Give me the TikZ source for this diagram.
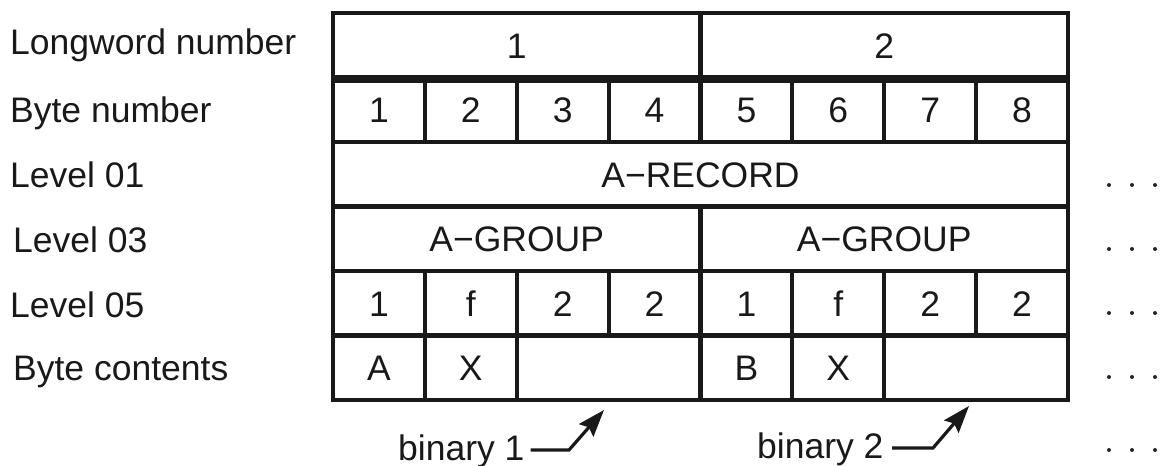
\documentclass[tikz,border=0pt]{standalone}
\usepackage{fontspec}
\setmainfont{Liberation Sans}
\usetikzlibrary{arrows.meta}
\begin{document}
\begin{tikzpicture}[x=1pt,y=-1pt,
  cell/.style={draw=black!90, line width=4.2pt, rectangle, inner sep=0pt,
    minimum height=64.5pt, text height=25.5pt, text depth=0pt,
    font=\fontsize{35.5}{42}\selectfont, text=black!90},
  rowlabel/.style={anchor=base west, inner sep=0pt,
    font=\fontsize{35.5}{42}\selectfont, text=black!90},
  dotmark/.style={fill=black!85},
  pointer/.style={line width=3.2pt, draw=black!90,
    -{Stealth[length=27pt,width=19pt,inset=4pt]}}
]
\useasboundingbox (0,0) rectangle (1160,466);
\def\cw{91.875}
% row labels
\node[rowlabel] (lLong) at (10,54) {Longword number};
\node[rowlabel] (lByte) at (10,122) {Byte number};
\node[rowlabel] (lL01) at (10,187) {Level 01};
\node[rowlabel] (lL03) at (13,252) {Level 03};
\node[rowlabel] (lL05) at (10,317) {Level 05};
\node[rowlabel] (lCont) at (13,380) {Byte contents};
% row 1: longwords
\node[cell, minimum width=4*\cw] (lw1) at (333+2*\cw,45.25) {1};
\node[cell, minimum width=4*\cw] (lw2) at (333+6*\cw,45.25) {2};
% row 2: bytes
\foreach \i in {1,...,8}{
  \node[cell, minimum width=\cw] (b\i) at (333+\i*\cw-0.5*\cw,109.75) {\i};
}
\draw[line width=6.5pt, draw=black!90] (lw1.south west) -- (lw2.south east);
% row 3: level 01
\node[cell, minimum width=8*\cw] (rec) at (333+4*\cw,174.25) {A−RECORD};
% row 4: level 03
\node[cell, minimum width=4*\cw] (grp1) at (333+2*\cw,238.75) {A−GROUP};
\node[cell, minimum width=4*\cw] (grp2) at (333+6*\cw,238.75) {A−GROUP};
% row 5: level 05
\node[cell, minimum width=\cw] (v1) at (333+0.5*\cw,303.25) {1};
\node[cell, minimum width=\cw] (v2) at (333+1.5*\cw,303.25) {f};
\node[cell, minimum width=\cw] (v3) at (333+2.5*\cw,303.25) {2};
\node[cell, minimum width=\cw] (v4) at (333+3.5*\cw,303.25) {2};
\node[cell, minimum width=\cw] (v5) at (333+4.5*\cw,303.25) {1};
\node[cell, minimum width=\cw] (v6) at (333+5.5*\cw,303.25) {f};
\node[cell, minimum width=\cw] (v7) at (333+6.5*\cw,303.25) {2};
\node[cell, minimum width=\cw] (v8) at (333+7.5*\cw,303.25) {2};
% row 6: byte contents
\node[cell, minimum width=\cw] (c1) at (333+0.5*\cw,367.75) {A};
\node[cell, minimum width=\cw] (c2) at (333+1.5*\cw,367.75) {X};
\node[cell, minimum width=2*\cw] (c3) at (333+3*\cw,367.75) {};
\node[cell, minimum width=\cw] (c5) at (333+4.5*\cw,367.75) {B};
\node[cell, minimum width=\cw] (c6) at (333+5.5*\cw,367.75) {X};
\node[cell, minimum width=2*\cw] (c7) at (333+7*\cw,367.75) {};
% binary pointers
\node[rowlabel] (bin1) at (398,460) {binary 1};
\node[rowlabel] (bin2) at (757,458) {binary 2};
\coordinate (s1) at ([xshift=6pt]bin1.base east |- 0,450);
\coordinate (k1) at (569,450);
\coordinate (t1) at (604,410);
\coordinate (s2) at (892,448);
\coordinate (k2) at (933,448);
\coordinate (t2) at (969,406);
\draw[pointer] (s1) -- (k1) -- (t1);
\draw[pointer] (s2) -- (k2) -- (t2);
% continuation dots
\foreach \y in {185,249,313,377,450}{
  \foreach \x in {1109,1132,1155}{
    \fill[dotmark] (\x,\y) circle (2pt);
  }
}
\end{tikzpicture}
\end{document}
